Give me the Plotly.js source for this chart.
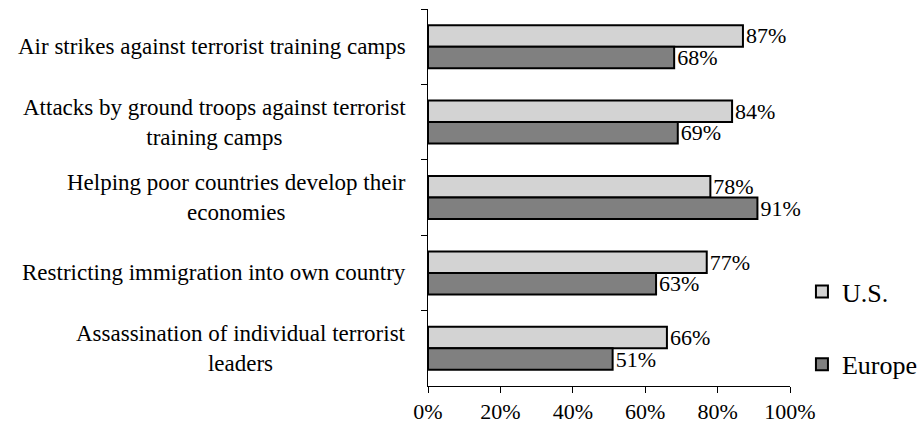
<!DOCTYPE html>
<html>
<head>
<meta charset="utf-8">
<script src="https://cdn.plot.ly/plotly-3.0.1.min.js"></script>
<style>html,body{margin:0;padding:0;background:#fff;}#chart{width:922px;height:429px;}</style>
</head>
<body>
<div id="chart"></div>
<script>
var categories = [
  "Air strikes against terrorist training camps",
  "Attacks by ground troops against terrorist<br>training camps",
  "Helping poor countries develop their<br>economies",
  "Restricting immigration into own country",
  "Assassination of individual terrorist<br>leaders"
];
var usValues = [87, 84, 78, 77, 66];
var europeValues = [68, 69, 91, 63, 51];
var seriesNames = ["U.S.", "Europe"];
var xTicks = [0, 20, 40, 60, 80, 100];

var FONT = "'Liberation Serif', 'Times New Roman', serif";

function pct(v) { return v + "%"; }

var traces = [
  {
    type: "bar", orientation: "h", name: seriesNames[0],
    y: categories, x: usValues,
    text: usValues.map(pct), textposition: "outside", cliponaxis: false,
    constraintext: "none",
    textfont: {family: FONT, size: 22, color: "#000"},
    marker: {color: "#d3d3d3", line: {color: "#000", width: 2}},
    legendgroup: "a", hoverinfo: "x+y"
  },
  {
    type: "bar", orientation: "h", name: seriesNames[1],
    y: categories, x: europeValues,
    text: europeValues.map(pct), textposition: "outside", cliponaxis: false,
    constraintext: "none",
    textfont: {family: FONT, size: 22, color: "#000"},
    marker: {color: "#808080", line: {color: "#000", width: 2}},
    legendgroup: "b", hoverinfo: "x+y"
  }
];

var annotations = categories.map(function (c) {
  return {
    xref: "paper", yref: "y", x: 0, y: c, xshift: -20,
    xanchor: "right", yanchor: "middle", align: "center",
    text: c, showarrow: false,
    font: {family: FONT, size: 23, color: "#000"}
  };
});

var layout = {
  width: 922, height: 429,
  margin: {l: 428, r: 132, t: 9, b: 43, pad: 0, autoexpand: false},
  paper_bgcolor: "#fff", plot_bgcolor: "#fff",
  font: {family: FONT, color: "#000"},
  barmode: "group", bargap: 0.43, bargroupgap: 0,
  showlegend: true,
  legend: {
    x: 1.033, xanchor: "left", y: 0.313, yanchor: "top",
    font: {family: FONT, size: 26, color: "#000"},
    traceorder: "grouped", tracegroupgap: 36,
    bgcolor: "rgba(0,0,0,0)", borderwidth: 0
  },
  xaxis: {
    range: [0, 100], tickvals: xTicks, ticktext: xTicks.map(pct),
    ticks: "outside", ticklen: 6, tickcolor: "#000", tickwidth: 1,
    showline: true, linecolor: "#000", linewidth: 1,
    showgrid: false, zeroline: false, fixedrange: true,
    tickfont: {family: FONT, size: 22, color: "#000"}
  },
  yaxis: {
    type: "category", autorange: "reversed",
    tickson: "boundaries", ticks: "outside", ticklen: 6, tickcolor: "#000", tickwidth: 1,
    showticklabels: false,
    showline: true, linecolor: "#000", linewidth: 1,
    showgrid: false, zeroline: false, fixedrange: true
  },
  annotations: annotations
};

Plotly.newPlot("chart", traces, layout, {displayModeBar: false, staticPlot: true});
</script>
</body>
</html>
